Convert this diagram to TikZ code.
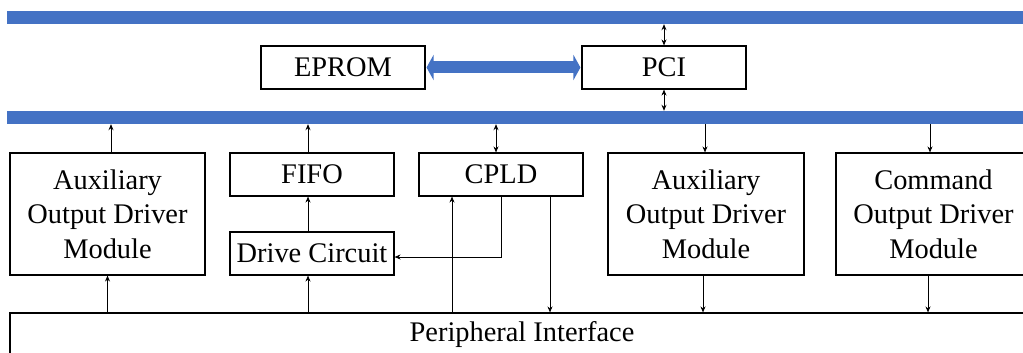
\documentclass[tikz,border=0pt]{standalone}
\usepackage{fontspec}
\setmainfont{Liberation Serif}
\usetikzlibrary{arrows.meta,calc}
\definecolor{busblue}{HTML}{4472C4}
\begin{document}
\begin{tikzpicture}[x=1pt,y=-1pt,
  box/.style={draw,line width=1.1pt,inner sep=0pt,align=center,font=\fontsize{28.4}{34.5}\selectfont},
  bar/.style={fill=busblue,draw=none,minimum height=13pt,minimum width=1030pt,inner sep=0pt},
  link/.style={line width=0.9pt,-{Stealth[length=6pt,width=5pt]}},
  blink/.style={line width=0.9pt,{Stealth[length=6pt,width=5pt]}-{Stealth[length=6pt,width=5pt]}},
  fat/.style={draw=busblue,line width=12pt,shorten <=1pt,shorten >=1pt,{Triangle[width=25pt,length=7pt]}-{Triangle[width=25pt,length=7pt]}}]
\useasboundingbox (0,0) rectangle (1023,353);
\clip (0,0) rectangle (1023,353);
% buses
\node[bar] (bus1) at (522,17.5) {};
\node[bar] (bus2) at (522,117.5) {};
% boxes
\node[box,minimum width=164pt,minimum height=43pt] (eprom) at (343,67.5) {EPROM};
\node[box,minimum width=164pt,minimum height=43pt] (pci) at (664,67.5) {PCI};
\node[box,minimum width=195pt,minimum height=122pt] (aux1) at (107.5,214) {Auxiliary\\Output Driver\\Module};
\node[box,minimum width=164pt,minimum height=43pt] (fifo) at (312,174.5) {FIFO};
\node[box,minimum width=164pt,minimum height=43pt] (cpld) at (501,174.5) {CPLD};
\node[box,minimum width=196pt,minimum height=122pt] (aux2) at (706,214) {Auxiliary\\Output Driver\\Module};
\node[box,minimum width=195pt,minimum height=122pt] (cmd) at (933.5,214) {Command\\Output Driver\\Module};
\node[box,minimum width=164pt,minimum height=43pt] (drive) at (312,253.5) {Drive Circuit};
\node[box,minimum width=1024pt,minimum height=43pt] (periph) at (522,334.5) {Peripheral Interface};
% connector anchor points
\coordinate (a1t) at ($(aux1.north)+(3.5,0)$);
\coordinate (fft) at ($(fifo.north)+(-4,0)$);
\coordinate (ffb) at ($(fifo.south)+(-4,0)$);
\coordinate (drt) at ($(drive.north)+(-4,0)$);
\coordinate (drb) at ($(drive.south)+(-4,0)$);
\coordinate (cpt) at ($(cpld.north)+(-5,0)$);
\coordinate (cpl) at ($(cpld.south)+(-49,0)$);
\coordinate (cpr) at ($(cpld.south)+(49,0)$);
\coordinate (dre) at ($(drive.east)+(0,3.5)$);
\coordinate (a2t) at ($(aux2.north)+(-1,0)$);
\coordinate (a2b) at ($(aux2.south)+(-3,0)$);
\coordinate (cmt) at ($(cmd.north)+(-3.5,0)$);
\coordinate (cmb) at ($(cmd.south)+(-5.5,0)$);
% EPROM <-> PCI
\draw[fat] (eprom.east) -- (pci.west);
% PCI <-> buses
\draw[blink] (pci.north) -- (pci.north |- bus1.south);
\draw[blink] (pci.south) -- (pci.south |- bus2.north);
% modules and bus2
\draw[link] (a1t) -- (a1t |- bus2.south);
\draw[link] (fft) -- (fft |- bus2.south);
\draw[blink] (cpt) -- (cpt |- bus2.south);
\draw[link] (a2t |- bus2.south) -- (a2t);
\draw[link] (cmt |- bus2.south) -- (cmt);
% peripheral connections
\draw[link] (aux1.south |- periph.north) -- (aux1.south);
\draw[link] (drb |- periph.north) -- (drb);
\draw[link] (drt) -- (ffb);
\draw[link] (cpl |- periph.north) -- (cpl);
\draw[link] (cpr) -- (cpr |- periph.north);
\draw[link] (cpld.south) |- (dre);
\draw[link] (a2b) -- (a2b |- periph.north);
\draw[link] (cmb) -- (cmb |- periph.north);
\end{tikzpicture}
\end{document}
